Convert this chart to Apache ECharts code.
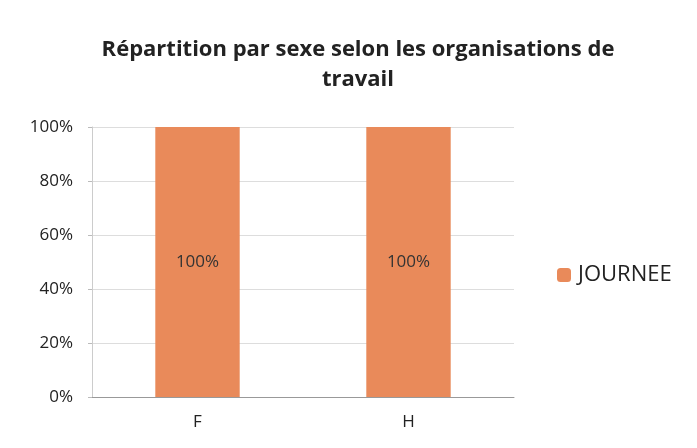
<!DOCTYPE html>
<html><head><meta charset="utf-8">
<script src="https://cdn.jsdelivr.net/npm/echarts@6/dist/echarts.min.js"></script>
<style>html,body{margin:0;padding:0;background:#fff}#c{width:697px;height:448px}</style>
</head><body><div id="c"></div>
<script>
const categories = ['F', 'H'];
const seriesName = 'JOURNEE';
const journee = [100, 100];
const yTicks = [0, 20, 40, 60, 80, 100];

const chart = echarts.init(document.getElementById('c'));
const font = '"Open Sans", Lato, sans-serif';
chart.setOption({
  animation: false,
  title: {
    text: 'Répartition par sexe selon les organisations de\ntravail',
    left: 353, top: 30, textAlign: 'center',
    textStyle: { fontFamily: font, fontWeight: 'bold', fontSize: 22, color: '#222', lineHeight: 30 }
  },
  legend: {
    data: [seriesName], orient: 'vertical', left: 552, top: 259,
    itemWidth: 14, itemHeight: 14, itemGap: 8,
    textStyle: { fontFamily: font, fontSize: 22, color: '#222', padding: [0, 0, 0, 2] }
  },
  grid: { left: 92, right: 183, top: 127, bottom: 51, containLabel: false },
  xAxis: {
    type: 'category', data: categories,
    axisLine: { lineStyle: { color: '#999' } },
    axisTick: { show: false },
    axisLabel: { fontFamily: font, fontSize: 17, color: '#222', margin: 17 }
  },
  yAxis: {
    type: 'value', min: 0, max: 100, interval: 20,
    axisLine: { show: true, lineStyle: { color: '#ccc' } },
    axisTick: { show: true, length: 4, lineStyle: { color: '#bbb' } },
    splitLine: { lineStyle: { color: '#ddd' } },
    axisLabel: { fontFamily: font, fontSize: 17, color: '#222', margin: 19,
      formatter: v => yTicks.includes(v) ? v + '%' : '' }
  },
  series: [{
    name: seriesName, type: 'bar', data: journee, barWidth: '40%',
    itemStyle: { color: '#E98A5A' },
    label: { show: true, position: 'inside', formatter: '{c}%', fontFamily: font, fontSize: 17, color: '#333' }
  }]
});
</script></body></html>
